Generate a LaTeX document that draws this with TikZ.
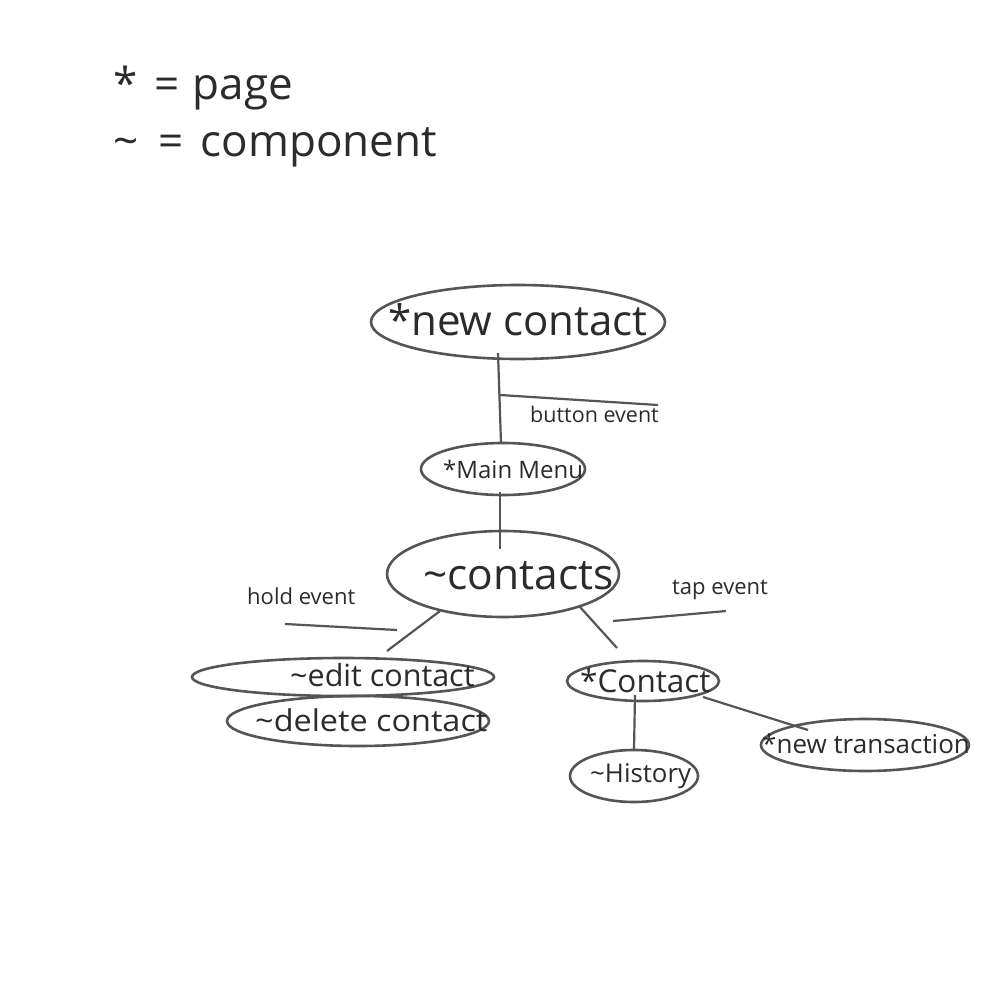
\documentclass[tikz,border=0pt]{standalone}
\usepackage{fontspec}
\setmainfont{Open Sans}
\usetikzlibrary{shapes.geometric}
\definecolor{ln}{HTML}{555555}
\definecolor{tx}{HTML}{2B2B2B}
\tikzset{
  x=1pt,y=-1pt,
  oval/.style={draw=ln,line width=2.6pt,ellipse,inner sep=0pt,text=tx},
  conn/.style={draw=ln,line width=2.2pt},
  lbl/.style={text=tx,inner sep=0pt,anchor=base west},
}
\newcommand{\fs}[1]{\fontsize{#1}{#1}\selectfont}
\begin{document}
\begin{tikzpicture}
\useasboundingbox (0,0) rectangle (1000,1000);
\fill[white] (0,0) rectangle (1000,1000);
% legend
\node[lbl] (leg1) at (113,100) {\fs{44}*\hspace{0.38em}=\hspace{0.3em}page};
\node[lbl] (leg2) at (113,157) {\fs{44}\textasciitilde\hspace{0.45em}=\hspace{0.4em}component};
% ovals
\node[oval,minimum width=294,minimum height=74] (nc) at (518,322) {};
\node[lbl] (nct) at (388,335) {\fs{42}*new contact};
\node[oval,minimum width=164,minimum height=52] (mm) at (503,469) {};
\node[lbl] (mmt) at (443,478) {\fs{24}*Main Menu};
\node[oval,minimum width=232,minimum height=86] (ct) at (503,574) {};
\node[lbl] (ctt) at (423,589) {\fs{42.5}\textasciitilde contacts};
\node[oval,minimum width=302,minimum height=38] (ec) at (343,677) {};
\node[lbl] (ect) at (290,686) {\fs{30.5}\textasciitilde edit contact};
\node[oval,minimum width=262,minimum height=50] (dc) at (358,721) {};
\node[lbl,xscale=1.08] (dct) at (255,731) {\fs{30}\textasciitilde delete contact};
\node[oval,minimum width=152,minimum height=40] (co) at (643,681) {};
\node[lbl] (cot) at (580,692) {\fs{31.5}*Contact};
\node[oval,minimum width=128,minimum height=52] (hi) at (634,776) {};
\node[lbl] (hit) at (590,782) {\fs{25.8}\textasciitilde History};
\node[oval,minimum width=208,minimum height=52] (nt) at (865,745) {};
\node[lbl] (ntt) at (762,753) {\fs{26}*new transaction};
% labels
\node[lbl] (be) at (530,422) {\fs{21.5}button event};
\node[lbl] (he) at (247,604) {\fs{22}hold event};
\node[lbl] (te) at (672,594) {\fs{22}tap event};
% connector points
\coordinate (a1) at (498,353);
\coordinate (a2) at (501,443);
\coordinate (b1) at (500,395);
\coordinate (b2) at (658,405);
\coordinate (c1) at (500,492);
\coordinate (c2) at (500,549);
\coordinate (h1) at (285,624);
\coordinate (h2) at (397,630);
\coordinate (d1) at (440,611);
\coordinate (d2) at (387,651);
\coordinate (e1) at (580,607);
\coordinate (e2) at (617,648);
\coordinate (t1) at (613,621);
\coordinate (t2) at (726,611);
\coordinate (f1) at (635,695);
\coordinate (f2) at (634,749);
\coordinate (g1) at (703,697);
\coordinate (g2) at (808,730);
\draw[conn] (a1) -- (a2);
\draw[conn] (b1) -- (b2);
\draw[conn] (c1) -- (c2);
\draw[conn] (h1) -- (h2);
\draw[conn] (d1) -- (d2);
\draw[conn] (e1) -- (e2);
\draw[conn] (t1) -- (t2);
\draw[conn] (f1) -- (f2);
\draw[conn] (g1) -- (g2);
\end{tikzpicture}
\end{document}
